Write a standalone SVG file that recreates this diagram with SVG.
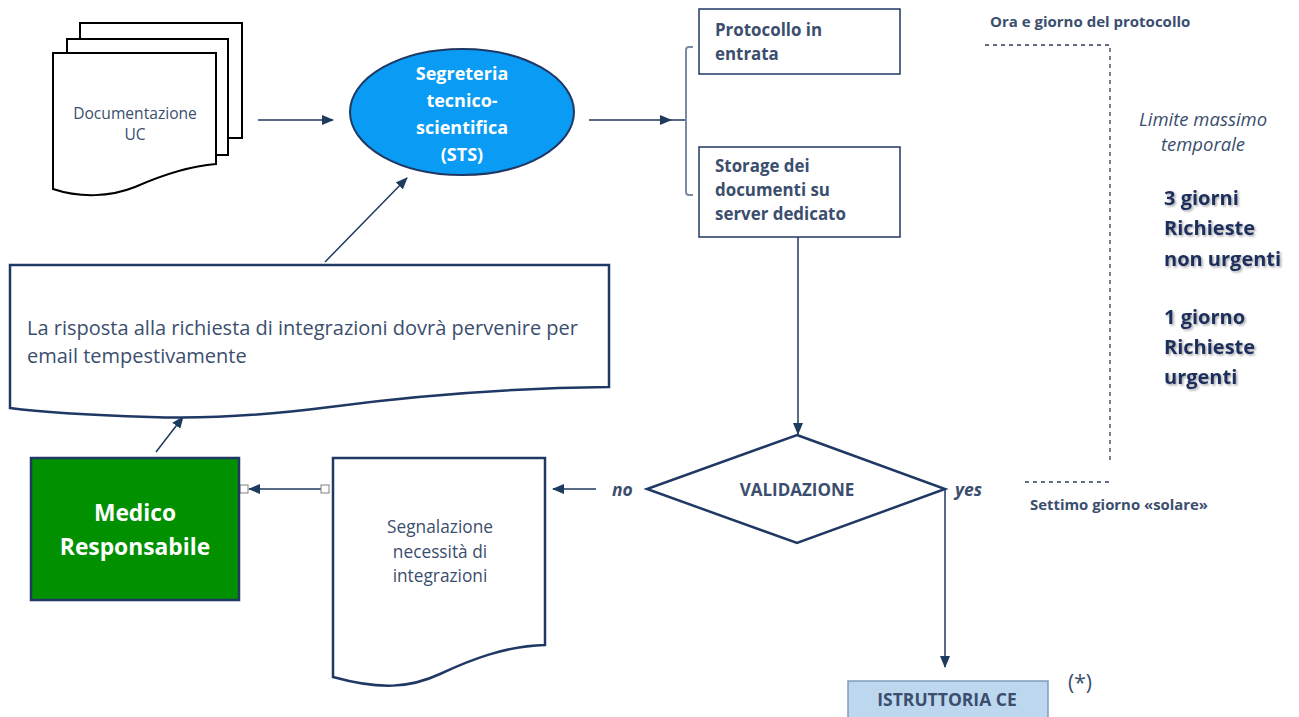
<svg xmlns="http://www.w3.org/2000/svg" width="1299" height="717" viewBox="0 0 1299 717">
<defs>
<marker id="arr" viewBox="0 0 12 10" refX="11" refY="5" markerWidth="12" markerHeight="10" markerUnits="userSpaceOnUse" orient="auto">
<path d="M0,0 L12,5 L0,10 Z" fill="#1F3A5F"/>
</marker>
<filter id="sh" x="-10%" y="-20%" width="130%" height="150%">
<feDropShadow dx="1.5" dy="1.5" stdDeviation="1" flood-color="#000" flood-opacity="0.35"/>
</filter>
</defs>
<style>
text{font-family:"Open Sans","Noto Sans","Liberation Sans",sans-serif;fill:#3B4E6E}
.b{font-weight:bold}
.i{font-style:italic}
.doc{fill:#fff;stroke:#1F3864;stroke-width:2.5}
.box{fill:#fff;stroke:#1F3864;stroke-width:1.5}
.c{fill:none;stroke:#1F3A5F;stroke-width:1.5}
.d{fill:none;stroke:#2F3F5F;stroke-width:1.3;stroke-dasharray:4 4}
.wt{fill:#fff}
.big{font-weight:bold;font-size:20px;fill:#1F2F5C}
</style>
<rect width="1299" height="717" fill="#fff"/>

<g id="connectors">
<path class="c" d="M258,120 H333" marker-end="url(#arr)"/>
<path class="c" d="M325,262 L407,178" marker-end="url(#arr)"/>
<path class="c" d="M589,120 H671" marker-end="url(#arr)"/>
<path class="c" d="M671,120 H686"/>
<path d="M693,47 H689 Q686,47 686,50 V192 Q686,195 689,195 H693" fill="none" stroke="#7A8AA0" stroke-width="2"/>
<path class="c" d="M798,237 V434" marker-end="url(#arr)"/>
<path class="c" d="M596,489 H553" marker-end="url(#arr)"/>
<path class="c" d="M945,489 V667" marker-end="url(#arr)"/>
<path class="c" d="M156,452 L183,417" marker-end="url(#arr)"/>
<path class="c" d="M325,489 H249" marker-end="url(#arr)"/>
<rect x="321" y="485" width="8" height="8" fill="#fff" stroke="#808080" stroke-width="1"/>
<rect x="240" y="485" width="8" height="8" fill="#fff" stroke="#808080" stroke-width="1"/>
</g>

<g id="documentazione">
<rect x="80" y="23" width="162" height="115" fill="#fff" stroke="#000" stroke-width="2"/>
<rect x="67" y="39" width="161" height="116" fill="#fff" stroke="#000" stroke-width="2"/>
<path d="M53,53 H216 V164 C190,166 160,176 135,187 C110,197 80,198 53,189 Z" fill="#fff" stroke="#000" stroke-width="2"/>
<text x="135" y="119" font-size="15.6" text-anchor="middle">Documentazione</text>
<text x="135" y="140" font-size="15.6" text-anchor="middle">UC</text>
</g>

<g id="sts">
<ellipse cx="462" cy="112" rx="112" ry="63" fill="#0A9BF5" stroke="#1F3864" stroke-width="2"/>
<text class="b wt" x="462" y="80" font-size="18" text-anchor="middle">Segreteria</text>
<text class="b wt" x="462" y="107" font-size="18" text-anchor="middle">tecnico-</text>
<text class="b wt" x="462" y="134" font-size="18" text-anchor="middle">scientifica</text>
<text class="b wt" x="462" y="161" font-size="18" text-anchor="middle">(STS)</text>
</g>

<g id="protocollo">
<rect class="box" x="699" y="9" width="201" height="65"/>
<text class="b" x="715" y="36" font-size="16.9">Protocollo in</text>
<text class="b" x="715" y="60" font-size="16.9">entrata</text>
</g>

<g id="storage">
<rect class="box" x="699" y="147" width="201" height="90"/>
<text class="b" x="715" y="172" font-size="16.9">Storage dei</text>
<text class="b" x="715" y="196" font-size="16.9">documenti su</text>
<text class="b" x="715" y="220" font-size="16.9">server dedicato</text>
</g>

<g id="risposta">
<path class="doc" d="M10,265 H609 V387 C520,388 420,395 330,407 C260,416 200,419 150,417 C90,415 40,412 10,408 Z"/>
<text x="27" y="335" font-size="20">La risposta alla richiesta di integrazioni dovrà pervenire per</text>
<text x="27" y="363" font-size="20">email tempestivamente</text>
</g>

<g id="medico">
<rect x="31" y="458" width="208" height="142" fill="#009000" stroke="#1F3864" stroke-width="2.5"/>
<text class="b wt" x="135" y="521" font-size="22.8" text-anchor="middle">Medico</text>
<text class="b wt" x="135" y="555" font-size="22.8" text-anchor="middle">Responsabile</text>
</g>

<g id="segnalazione">
<path class="doc" d="M333,458 H545 V645 C505,646 470,660 440,674 C410,688 380,690 333,677 Z"/>
<text x="440" y="533" font-size="17.3" text-anchor="middle">Segnalazione</text>
<text x="440" y="558" font-size="17.3" text-anchor="middle">necessità di</text>
<text x="440" y="582" font-size="17.3" text-anchor="middle">integrazioni</text>
</g>

<g id="validazione">
<path d="M797,435 L945,489 L797,543 L647,489 Z" fill="#fff" stroke="#1F3864" stroke-width="2.5"/>
<text class="b" x="797" y="496" font-size="17" text-anchor="middle">VALIDAZIONE</text>
<text class="b i" x="612" y="496" font-size="17.5">no</text>
<text class="b i" x="955" y="496" font-size="17.5">yes</text>
</g>

<g id="istruttoria">
<rect x="848" y="681" width="200" height="40" fill="#BDD7EE" stroke="#7F9DB9" stroke-width="1.5"/>
<text class="b" x="947" y="706" font-size="17.5" text-anchor="middle">ISTRUTTORIA CE</text>
<text x="1068" y="690" font-size="21">(*)</text>
</g>

<g id="tempi">
<path class="d" d="M985,45 H1110 V463"/>
<path class="d" d="M1025,482 H1110"/>
<text class="b" x="990" y="27" font-size="15">Ora e giorno del protocollo</text>
<text class="b" x="1030" y="510" font-size="14.9">Settimo giorno «solare»</text>
<text class="i" x="1203" y="126" font-size="18.5" text-anchor="middle">Limite massimo</text>
<text class="i" x="1203" y="151" font-size="18.5" text-anchor="middle">temporale</text>
<g filter="url(#sh)">
<text class="big" x="1164" y="205">3 giorni</text>
<text class="big" x="1164" y="235">Richieste</text>
<text class="big" x="1164" y="266">non urgenti</text>
<text class="big" x="1164" y="324">1 giorno</text>
<text class="big" x="1164" y="354">Richieste</text>
<text class="big" x="1164" y="384">urgenti</text>
</g>
</g>
</svg>
